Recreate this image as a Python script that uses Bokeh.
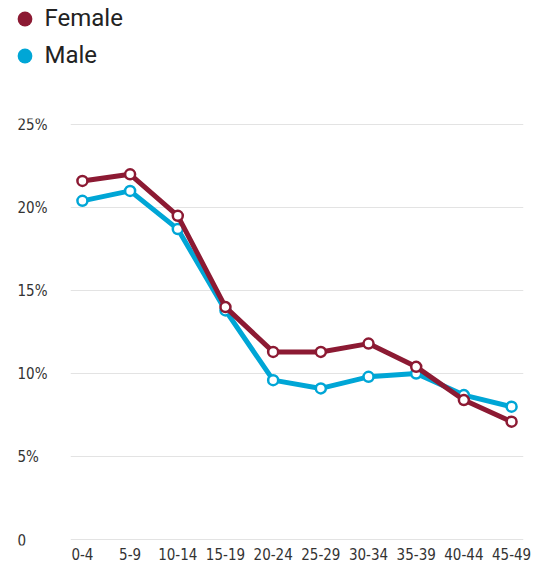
from bokeh.plotting import figure
from bokeh.layouts import column, row
from bokeh.models import Range1d, FixedTicker, Legend, LegendItem, ColumnDataSource
from bokeh.core.properties import value
from bokeh.embed import file_html
from bokeh.resources import INLINE

age_groups = ["0-4", "5-9", "10-14", "15-19", "20-24", "25-29", "30-34", "35-39", "40-44", "45-49"]
female = [21.6, 22.0, 19.5, 14.0, 11.3, 11.3, 11.8, 10.4, 8.4, 7.1]
male = [20.4, 21.0, 18.7, 13.8, 9.6, 9.1, 9.8, 10.0, 8.7, 8.0]
y_ticks = [0, 5, 10, 15, 20, 25]
y_tick_labels = ["0", "5%", "10%", "15%", "20%", "25%"]

FEMALE_COLOR = "#8C1A33"
MALE_COLOR = "#00A6D6"
TICK_FONT = "'Liberation Sans Narrow', 'DejaVu Sans Condensed', sans-serif"
TICK_COLOR = "#333333"

xs = list(range(len(age_groups)))

# shared vertical geometry
PX = 16.6                      # pixels per percentage point
PAD_PX = 6
pad = PAD_PX / PX
FRAME_H = round(PX * (25 + 2 * pad))
TOP, BOTTOM = 34, 21
MAIN_H = TOP + FRAME_H + BOTTOM
yr = Range1d(-pad, 25 + pad)

# ---------------- main chart ----------------
main = figure(width=470, height=MAIN_H, output_backend="svg", toolbar_location=None,
              x_range=Range1d(-0.25, 9.25), y_range=yr,
              min_border_left=0, min_border_right=17, min_border_top=TOP, min_border_bottom=BOTTOM)
main.outline_line_color = None
main.xgrid.visible = False
main.ygrid.ticker = FixedTicker(ticks=y_ticks)
main.ygrid.grid_line_color = "#e3e3e3"
main.ygrid.grid_line_width = 1
main.yaxis.visible = False

xa = main.xaxis[0]
xa.ticker = FixedTicker(ticks=xs)
xa.major_label_overrides = {i: lab for i, lab in enumerate(age_groups)}
xa.axis_line_color = None
xa.major_tick_line_color = None
xa.minor_tick_line_color = None
xa.major_tick_in = 0
xa.major_tick_out = 0
xa.major_label_standoff = 2
xa.major_label_text_font = TICK_FONT
xa.major_label_text_font_size = "15px"
xa.major_label_text_color = TICK_COLOR

main.line(xs, male, line_color=MALE_COLOR, line_width=5, line_join="round")
main.scatter(xs, male, size=10, fill_color="white", line_color=MALE_COLOR, line_width=2.5)
main.line(xs, female, line_color=FEMALE_COLOR, line_width=5, line_join="round")
main.scatter(xs, female, size=10, fill_color="white", line_color=FEMALE_COLOR, line_width=2.5)

# ---------------- y tick labels (left aligned) ----------------
ylab = figure(width=70, height=MAIN_H, output_backend="svg", toolbar_location=None,
              x_range=Range1d(0, 70), y_range=yr,
              min_border_left=0, min_border_right=0, min_border_top=TOP, min_border_bottom=BOTTOM)
ylab.axis.visible = False
ylab.grid.visible = False
ylab.outline_line_color = None
ysrc = ColumnDataSource(dict(y=y_ticks, text=y_tick_labels, x=[17] * len(y_ticks)))
ylab.text(x="x", y="y", text="text", source=ysrc, text_align="left", text_baseline="middle",
          text_font=value(TICK_FONT), text_font_size="15px", text_color=TICK_COLOR)

# ---------------- legend ----------------
LEG_H = 84
leg = figure(width=540, height=LEG_H, output_backend="svg", toolbar_location=None,
             x_range=Range1d(0, 1), y_range=Range1d(0, 1),
             min_border_left=0, min_border_right=0, min_border_top=0, min_border_bottom=0)
leg.axis.visible = False
leg.grid.visible = False
leg.outline_line_color = None
# placeholder points outside the visible range: only their legend swatches show
rf = leg.scatter([-5], [-5], marker="circle", fill_color=FEMALE_COLOR, line_color=None)
rm = leg.scatter([-5], [-5], marker="circle", fill_color=MALE_COLOR, line_color=None)
legend = Legend(items=[LegendItem(label="Female", renderers=[rf]),
                       LegendItem(label="Male", renderers=[rm])],
                location=(5.5, 10.5), orientation="vertical",
                glyph_width=37, glyph_height=37, label_height=37, spacing=0,
                padding=0, margin=0, label_standoff=2,
                border_line_color=None, background_fill_alpha=0,
                label_text_font="Roboto", label_text_font_size="24px",
                label_text_color="#222222")
leg.add_layout(legend, "center")

layout = column(leg, row(ylab, main, spacing=0), spacing=0)
open("out.html", "w").write(file_html(layout, INLINE))
